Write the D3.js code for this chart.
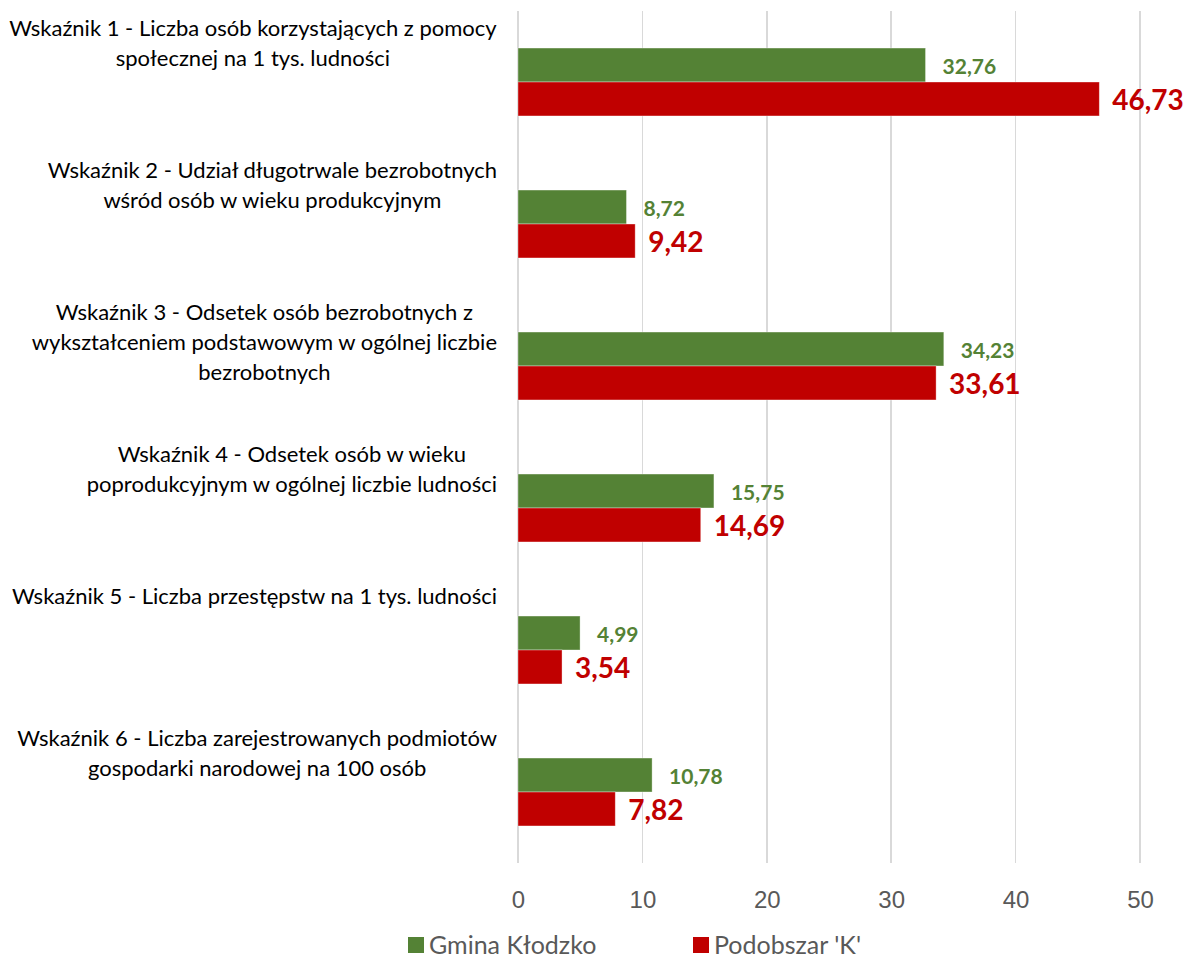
<html lang="pl">
    <head>
        <meta charset="utf-8">
        <title>Wskazniki - Gmina Klodzko</title>
        <style>
			body {
				margin: 0;
				background-color: white;
			}
			svg {
				font-family: Lato, "Open Sans", sans-serif;
			}
			.grid line {
				stroke: #D9D9D9;
				stroke-width: 1.5;
				shape-rendering: crispEdges;
			}
			.x-axis text {
				fill: #595959;
				font-size: 24px;
			}
			.cat text {
				fill: #000;
				font-size: 22px;
			}
			.legend text {
				fill: #595959;
				font-size: 25px;
			}
        </style>
    </head>

    <body>
    <script type="text/javascript" src="https://cdnjs.cloudflare.com/ajax/libs/d3/7.8.5/d3.min.js"></script>
    <script type="text/javascript">
// dane
var categories = [
	["Wskaźnik 1 - Liczba osób korzystających z pomocy", "społecznej na 1 tys. ludności"],
	["Wskaźnik 2 - Udział długotrwale bezrobotnych", "wśród osób w wieku produkcyjnym"],
	["Wskaźnik 3 - Odsetek osób bezrobotnych z", "wykształceniem podstawowym w ogólnej liczbie", "bezrobotnych"],
	["Wskaźnik 4 - Odsetek osób w wieku", "poprodukcyjnym w ogólnej liczbie ludności"],
	["Wskaźnik 5 - Liczba przestępstw na 1 tys. ludności"],
	["Wskaźnik 6 - Liczba zarejestrowanych podmiotów", "gospodarki narodowej na 100 osób"]
];
var seriesNames = ["Gmina Kłodzko", "Podobszar 'K'"];
var gminaValues = [32.76, 8.72, 34.23, 15.75, 4.99, 10.78];
var podobszarValues = [46.73, 9.42, 33.61, 14.69, 3.54, 7.82];
var xTicks = [0, 10, 20, 30, 40, 50];
var colors = ["#548235", "#C00000"];

var fullWidth = 1191;
var fullHeight = 960;
var plot = {top: 11, bottom: 863, left: 518, right: 1140};

var svg = d3.select("body")
            .append("svg")
            .attr("width", fullWidth)
            .attr("height", fullHeight);

var catIdx = d3.range(categories.length);

var xScale = d3.scaleLinear()
               .domain([0, 50])
               .range([plot.left, plot.right]);
var yScale = d3.scaleBand()
               .domain(catIdx)
               .range([plot.top, plot.bottom]);
var ySub = d3.scaleBand()
             .domain([0, 1])
             .range([0, yScale.bandwidth()])
             .paddingInner(0)
             .paddingOuter(1.09);

// siatka
svg.append("g")
   .attr("class", "grid")
   .selectAll("line")
   .data(xTicks).enter()
   .append("line")
   .attr("x1", function(d) { return xScale(d); })
   .attr("x2", function(d) { return xScale(d); })
   .attr("y1", plot.top)
   .attr("y2", plot.bottom);

// os x
var xAxis = d3.axisBottom(xScale)
              .tickValues(xTicks)
              .tickSize(0)
              .tickPadding(0)
              .tickFormat(d3.format("d"));
var gx = svg.append("g")
   .attr("class", "x-axis")
   .attr("transform", "translate(0," + 900 + ")")
   .call(xAxis);
gx.select(".domain").remove();
gx.selectAll("text")
  .attr("y", 0)
  .attr("dy", "0.35em")
  .attr("font-family", null)
  .attr("font-size", null);

// etykiety kategorii
var cat = svg.append("g").attr("class", "cat");
categories.forEach(function(lines, i) {
	var t = cat.append("text")
	   .attr("text-anchor", "middle");
	lines.forEach(function(line, j) {
		t.append("tspan")
		 .attr("x", 0)
		 .attr("y", yScale(i) + 17 + j * 30)
		 .attr("dy", "0.35em")
		 .text(line);
	});
	// wyrownanie bloku do prawej
	var w = t.node().getBBox().width;
	t.selectAll("tspan").attr("x", 497 - w / 2);
});

// slupki
var rows = catIdx.map(function(i) {
	return [gminaValues[i], podobszarValues[i]];
});

var groups = svg.append("g")
   .attr("class", "bars")
   .selectAll("g")
   .data(rows).enter()
   .append("g")
   .attr("transform", function(d, i) { return "translate(0," + yScale(i) + ")"; });

groups.selectAll("rect")
   .data(function(d) { return d; }).enter()
   .append("rect")
   .attr("x", xScale(0))
   .attr("y", function(d, k) { return ySub(k); })
   .attr("width", function(d) { return xScale(d) - xScale(0); })
   .attr("height", ySub.bandwidth())
   .attr("fill", function(d, k) { return colors[k]; })
   .attr("stroke", "rgba(255,255,255,0.45)")
   .attr("stroke-width", 0.8);

groups.selectAll("text")
   .data(function(d) { return d; }).enter()
   .append("text")
   .attr("x", function(d, k) { return xScale(d) + (k == 0 ? 17 : 13); })
   .attr("y", function(d, k) { return ySub(k) + ySub.bandwidth() / 2 + (k == 0 ? 2 : 1); })
   .attr("dy", "0.35em")
   .attr("fill", function(d, k) { return colors[k]; })
   .attr("font-weight", "bold")
   .attr("font-size", function(d, k) { return k == 0 ? "21px" : "28px"; })
   .text(function(d) { return d3.format(".2f")(d).replace(".", ","); });

// legenda
var legendX = [408, 693];
var legend = svg.append("g")
   .attr("class", "legend")
   .selectAll("g")
   .data(seriesNames).enter()
   .append("g")
   .attr("transform", function(d, i) { return "translate(" + legendX[i] + ",945)"; });
legend.append("rect")
   .attr("x", 0)
   .attr("y", -8)
   .attr("width", 16)
   .attr("height", 16)
   .attr("fill", function(d, i) { return colors[i]; });
legend.append("text")
   .attr("x", 21)
   .attr("y", 0)
   .attr("dy", "0.35em")
   .text(function(d) { return d; });
    </script>
    </body>
</html>
